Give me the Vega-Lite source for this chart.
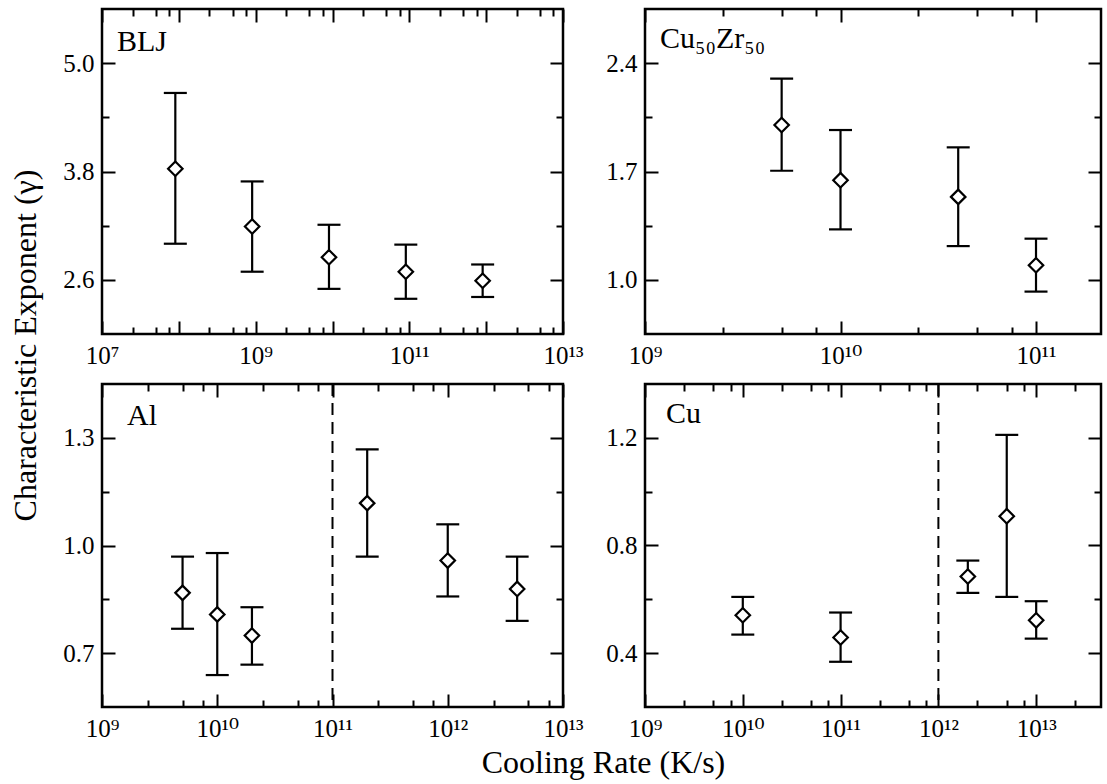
{
  "$schema": "https://vega.github.io/schema/vega-lite/v6.json",
  "padding": {"left": 7, "top": 6, "right": 0, "bottom": 0},
  "datasets": {
    "blj": [
      {"rate": 9e7, "g": 3.83, "lo": 3.00, "hi": 4.67},
      {"rate": 9e8, "g": 3.19, "lo": 2.69, "hi": 3.69},
      {"rate": 9e9, "g": 2.85, "lo": 2.50, "hi": 3.21},
      {"rate": 9e10, "g": 2.69, "lo": 2.39, "hi": 2.99},
      {"rate": 9e11, "g": 2.59, "lo": 2.41, "hi": 2.77}
    ],
    "cuzr": [
      {"rate": 5e9, "g": 2.00, "lo": 1.705, "hi": 2.30},
      {"rate": 1e10, "g": 1.644, "lo": 1.326, "hi": 1.968},
      {"rate": 4e10, "g": 1.536, "lo": 1.218, "hi": 1.856},
      {"rate": 1e11, "g": 1.094, "lo": 0.924, "hi": 1.266}
    ],
    "al": [
      {"rate": 5e9, "g": 0.868, "lo": 0.768, "hi": 0.969},
      {"rate": 1e10, "g": 0.808, "lo": 0.639, "hi": 0.979},
      {"rate": 2e10, "g": 0.749, "lo": 0.668, "hi": 0.828},
      {"rate": 2e11, "g": 1.118, "lo": 0.969, "hi": 1.268},
      {"rate": 1e12, "g": 0.958, "lo": 0.858, "hi": 1.059},
      {"rate": 4e12, "g": 0.879, "lo": 0.790, "hi": 0.969}
    ],
    "cu": [
      {"rate": 1e10, "g": 0.541, "lo": 0.469, "hi": 0.609},
      {"rate": 1e11, "g": 0.458, "lo": 0.368, "hi": 0.551},
      {"rate": 2e12, "g": 0.685, "lo": 0.624, "hi": 0.744},
      {"rate": 5e12, "g": 0.909, "lo": 0.609, "hi": 1.211},
      {"rate": 1e13, "g": 0.522, "lo": 0.454, "hi": 0.593}
    ]
  },
  "columns": 2,
  "spacing": {"row": 50, "column": 82},
  "bounds": "flush",
  "concat": [
    {
      "width": 461, "height": 325,
      "data": {"name": "blj"},
      "resolve": {"axis": {"x": "independent", "y": "independent"}},
      "layer": [
        {"mark": {"type": "rule", "strokeWidth": 2.2, "color": "black"},
         "encoding": {
           "x": {"field": "rate", "type": "quantitative", "scale": {"type": "log", "domain": [1e7, 1e13], "nice": false},
                 "axis": {"orient": "bottom", "title": null, "values": [1e7, 1e8, 1e9, 1e10, 1e11, 1e12, 1e13], "tickSize": -13, "labelPadding": 22,
                          "labelExpr": "datum.value == 1e7 ? '10⁷' : datum.value == 1e9 ? '10⁹' : datum.value == 1e11 ? '10¹¹' : datum.value == 1e13 ? '10¹³' : ''"}},
           "y": {"field": "lo", "type": "quantitative", "scale": {"domain": [2.0, 5.6], "nice": false, "zero": false},
                 "axis": {"orient": "left", "title": "Characteristic Exponent (γ)", "values": [2.6, 3.8, 5.0], "format": ".1f", "tickSize": -13, "labelPadding": 21,
                          "titleX": -67, "titleY": 336, "titleAngle": 270, "titleAlign": "center", "titleBaseline": "alphabetic"}},
           "y2": {"field": "hi"}
         }},
        {"mark": {"type": "tick", "orient": "horizontal", "size": 23, "thickness": 2.2, "color": "black", "opacity": 1},
         "encoding": {
           "x": {"field": "rate", "type": "quantitative", "scale": {"type": "log", "domain": [1e7, 1e13], "nice": false},
                 "axis": {"orient": "bottom", "title": null, "labels": false, "tickSize": -7,
                          "values": [2.5e7, 5e7, 7.5e7, 2.5e8, 5e8, 7.5e8, 2.5e9, 5e9, 7.5e9, 2.5e10, 5e10, 7.5e10, 2.5e11, 5e11, 7.5e11, 2.5e12, 5e12, 7.5e12]}},
           "y": {"field": "lo", "type": "quantitative", "scale": {"domain": [2.0, 5.6], "nice": false, "zero": false},
                 "axis": {"orient": "left", "title": null, "labels": false, "tickSize": -7, "values": [3.2, 4.4]}}
         }},
        {"mark": {"type": "tick", "orient": "horizontal", "size": 23, "thickness": 2.2, "color": "black", "opacity": 1},
         "encoding": {
           "x": {"field": "rate", "type": "quantitative", "scale": {"type": "log", "domain": [1e7, 1e13], "nice": false},
                 "axis": {"orient": "top", "title": null, "labels": false, "tickSize": -13, "values": [1e7, 1e8, 1e9, 1e10, 1e11, 1e12, 1e13]}},
           "y": {"field": "hi", "type": "quantitative", "scale": {"domain": [2.0, 5.6], "nice": false, "zero": false},
                 "axis": {"orient": "right", "title": null, "labels": false, "tickSize": -13, "values": [2.6, 3.8, 5.0]}}
         }},
        {"data": {"values": [{"label": "BLJ"}]},
         "mark": {"type": "text", "align": "left", "baseline": "alphabetic", "dx": 15, "dy": 42, "fontSize": 30, "font": "Liberation Serif", "color": "black"},
         "encoding": {
           "x": {"datum": 1e7, "type": "quantitative", "scale": {"type": "log", "domain": [1e7, 1e13], "nice": false}, "axis": null},
           "y": {"datum": 5.6, "type": "quantitative", "scale": {"domain": [2.0, 5.6], "nice": false, "zero": false}, "axis": null},
           "text": {"field": "label"}
         }},
        {"mark": {"type": "point", "shape": "diamond", "filled": true, "fill": "white", "stroke": "black", "strokeWidth": 2.2, "size": 210, "opacity": 1},
         "encoding": {
           "x": {"field": "rate", "type": "quantitative", "scale": {"type": "log", "domain": [1e7, 1e13], "nice": false},
                 "axis": {"orient": "top", "title": null, "labels": false, "tickSize": -7,
                          "values": [2.5e7, 5e7, 7.5e7, 2.5e8, 5e8, 7.5e8, 2.5e9, 5e9, 7.5e9, 2.5e10, 5e10, 7.5e10, 2.5e11, 5e11, 7.5e11, 2.5e12, 5e12, 7.5e12]}},
           "y": {"field": "g", "type": "quantitative", "scale": {"domain": [2.0, 5.6], "nice": false, "zero": false},
                 "axis": {"orient": "right", "title": null, "labels": false, "tickSize": -7, "values": [3.2, 4.4]}}
         }}
      ]
    },
    {
      "width": 456, "height": 325,
      "data": {"name": "cuzr"},
      "resolve": {"axis": {"x": "independent", "y": "independent"}},
      "layer": [
        {"mark": {"type": "rule", "strokeWidth": 2.2, "color": "black"},
         "encoding": {
           "x": {"field": "rate", "type": "quantitative", "scale": {"type": "log", "domain": [1e9, 2.15e11], "nice": false},
                 "axis": {"orient": "bottom", "title": null, "values": [1e9, 1e10, 1e11], "tickSize": -13, "labelPadding": 22,
                          "labelExpr": "datum.value == 1e9 ? '10⁹' : datum.value == 1e10 ? '10¹⁰' : '10¹¹'"}},
           "y": {"field": "lo", "type": "quantitative", "scale": {"domain": [0.65, 2.75], "nice": false, "zero": false},
                 "axis": {"orient": "left", "title": null, "values": [1.0, 1.7, 2.4], "format": ".1f", "tickSize": -13, "labelPadding": 21}},
           "y2": {"field": "hi"}
         }},
        {"mark": {"type": "tick", "orient": "horizontal", "size": 23, "thickness": 2.2, "color": "black", "opacity": 1},
         "encoding": {
           "x": {"field": "rate", "type": "quantitative", "scale": {"type": "log", "domain": [1e9, 2.15e11], "nice": false},
                 "axis": {"orient": "bottom", "title": null, "labels": false, "tickSize": -7, "values": [2.5e9, 5e9, 7.5e9, 2.5e10, 5e10, 7.5e10]}},
           "y": {"field": "lo", "type": "quantitative", "scale": {"domain": [0.65, 2.75], "nice": false, "zero": false},
                 "axis": {"orient": "left", "title": null, "labels": false, "tickSize": -7, "values": [1.35, 2.05]}}
         }},
        {"mark": {"type": "tick", "orient": "horizontal", "size": 23, "thickness": 2.2, "color": "black", "opacity": 1},
         "encoding": {
           "x": {"field": "rate", "type": "quantitative", "scale": {"type": "log", "domain": [1e9, 2.15e11], "nice": false},
                 "axis": {"orient": "top", "title": null, "labels": false, "tickSize": -13, "values": [1e9, 1e10, 1e11]}},
           "y": {"field": "hi", "type": "quantitative", "scale": {"domain": [0.65, 2.75], "nice": false, "zero": false},
                 "axis": {"orient": "right", "title": null, "labels": false, "tickSize": -13, "values": [1.0, 1.7, 2.4]}}
         }},
        {"data": {"values": [{"label": "Cu₅₀Zr₅₀"}]},
         "mark": {"type": "text", "align": "left", "baseline": "alphabetic", "dx": 15, "dy": 39, "fontSize": 30, "font": "Liberation Serif, DejaVu Serif", "color": "black"},
         "encoding": {
           "x": {"datum": 1e9, "type": "quantitative", "scale": {"type": "log", "domain": [1e9, 2.15e11], "nice": false}, "axis": null},
           "y": {"datum": 2.75, "type": "quantitative", "scale": {"domain": [0.65, 2.75], "nice": false, "zero": false}, "axis": null},
           "text": {"field": "label"}
         }},
        {"mark": {"type": "point", "shape": "diamond", "filled": true, "fill": "white", "stroke": "black", "strokeWidth": 2.2, "size": 210, "opacity": 1},
         "encoding": {
           "x": {"field": "rate", "type": "quantitative", "scale": {"type": "log", "domain": [1e9, 2.15e11], "nice": false},
                 "axis": {"orient": "top", "title": null, "labels": false, "tickSize": -7, "values": [2.5e9, 5e9, 7.5e9, 2.5e10, 5e10, 7.5e10]}},
           "y": {"field": "g", "type": "quantitative", "scale": {"domain": [0.65, 2.75], "nice": false, "zero": false},
                 "axis": {"orient": "right", "title": null, "labels": false, "tickSize": -7, "values": [1.35, 2.05]}}
         }}
      ]
    },
    {
      "width": 461, "height": 323,
      "data": {"name": "al"},
      "resolve": {"axis": {"x": "independent", "y": "independent"}},
      "layer": [
        {"mark": {"type": "rule", "strokeWidth": 2.2, "color": "black"},
         "encoding": {
           "x": {"field": "rate", "type": "quantitative", "scale": {"type": "log", "domain": [1e9, 1e13], "nice": false},
                 "axis": {"orient": "bottom", "title": "Cooling Rate (K/s)", "values": [1e9, 1e10, 1e11, 1e12, 1e13], "tickSize": -13, "labelPadding": 22,
                          "labelExpr": "datum.value == 1e9 ? '10⁹' : datum.value == 1e10 ? '10¹⁰' : datum.value == 1e11 ? '10¹¹' : datum.value == 1e12 ? '10¹²' : '10¹³'",
                          "titleX": 501, "titleY": 65, "titleAlign": "center", "titleBaseline": "alphabetic", "titleAngle": 0}},
           "y": {"field": "lo", "type": "quantitative", "scale": {"domain": [0.55, 1.45], "nice": false, "zero": false},
                 "axis": {"orient": "left", "title": null, "values": [0.7, 1.0, 1.3], "format": ".1f", "tickSize": -13, "labelPadding": 21}},
           "y2": {"field": "hi"}
         }},
        {"mark": {"type": "tick", "orient": "horizontal", "size": 23, "thickness": 2.2, "color": "black", "opacity": 1},
         "encoding": {
           "x": {"field": "rate", "type": "quantitative", "scale": {"type": "log", "domain": [1e9, 1e13], "nice": false},
                 "axis": {"orient": "bottom", "title": null, "labels": false, "tickSize": -7,
                          "values": [2.5e9, 5e9, 7.5e9, 2.5e10, 5e10, 7.5e10, 2.5e11, 5e11, 7.5e11, 2.5e12, 5e12, 7.5e12]}},
           "y": {"field": "lo", "type": "quantitative", "scale": {"domain": [0.55, 1.45], "nice": false, "zero": false},
                 "axis": {"orient": "left", "title": null, "labels": false, "tickSize": -7, "values": [0.85, 1.15]}}
         }},
        {"mark": {"type": "tick", "orient": "horizontal", "size": 23, "thickness": 2.2, "color": "black", "opacity": 1},
         "encoding": {
           "x": {"field": "rate", "type": "quantitative", "scale": {"type": "log", "domain": [1e9, 1e13], "nice": false},
                 "axis": {"orient": "top", "title": null, "labels": false, "tickSize": -13, "values": [1e9, 1e10, 1e11, 1e12, 1e13]}},
           "y": {"field": "hi", "type": "quantitative", "scale": {"domain": [0.55, 1.45], "nice": false, "zero": false},
                 "axis": {"orient": "right", "title": null, "labels": false, "tickSize": -13, "values": [0.7, 1.0, 1.3]}}
         }},
        {"data": {"values": [{"rate": 1e11}]},
         "mark": {"type": "rule", "strokeWidth": 2, "color": "black", "strokeDash": [12, 7]},
         "encoding": {
           "x": {"field": "rate", "type": "quantitative", "scale": {"type": "log", "domain": [1e9, 1e13], "nice": false}, "axis": null}
         }},
        {"data": {"values": [{"label": "Al"}]},
         "mark": {"type": "text", "align": "left", "baseline": "alphabetic", "dx": 25, "dy": 41, "fontSize": 30, "font": "Liberation Serif", "color": "black"},
         "encoding": {
           "x": {"datum": 1e9, "type": "quantitative", "scale": {"type": "log", "domain": [1e9, 1e13], "nice": false}, "axis": null},
           "y": {"datum": 1.45, "type": "quantitative", "scale": {"domain": [0.55, 1.45], "nice": false, "zero": false}, "axis": null},
           "text": {"field": "label"}
         }},
        {"mark": {"type": "point", "shape": "diamond", "filled": true, "fill": "white", "stroke": "black", "strokeWidth": 2.2, "size": 210, "opacity": 1},
         "encoding": {
           "x": {"field": "rate", "type": "quantitative", "scale": {"type": "log", "domain": [1e9, 1e13], "nice": false},
                 "axis": {"orient": "top", "title": null, "labels": false, "tickSize": -7,
                          "values": [2.5e9, 5e9, 7.5e9, 2.5e10, 5e10, 7.5e10, 2.5e11, 5e11, 7.5e11, 2.5e12, 5e12, 7.5e12]}},
           "y": {"field": "g", "type": "quantitative", "scale": {"domain": [0.55, 1.45], "nice": false, "zero": false},
                 "axis": {"orient": "right", "title": null, "labels": false, "tickSize": -7, "values": [0.85, 1.15]}}
         }}
      ]
    },
    {
      "width": 456, "height": 323,
      "data": {"name": "cu"},
      "resolve": {"axis": {"x": "independent", "y": "independent"}},
      "layer": [
        {"mark": {"type": "rule", "strokeWidth": 2.2, "color": "black"},
         "encoding": {
           "x": {"field": "rate", "type": "quantitative", "scale": {"type": "log", "domain": [1e9, 4.6e13], "nice": false},
                 "axis": {"orient": "bottom", "title": null, "values": [1e9, 1e10, 1e11, 1e12, 1e13], "tickSize": -13, "labelPadding": 22,
                          "labelExpr": "datum.value == 1e9 ? '10⁹' : datum.value == 1e10 ? '10¹⁰' : datum.value == 1e11 ? '10¹¹' : datum.value == 1e12 ? '10¹²' : '10¹³'"}},
           "y": {"field": "lo", "type": "quantitative", "scale": {"domain": [0.2, 1.4], "nice": false, "zero": false},
                 "axis": {"orient": "left", "title": null, "values": [0.4, 0.8, 1.2], "format": ".1f", "tickSize": -13, "labelPadding": 21}},
           "y2": {"field": "hi"}
         }},
        {"mark": {"type": "tick", "orient": "horizontal", "size": 23, "thickness": 2.2, "color": "black", "opacity": 1},
         "encoding": {
           "x": {"field": "rate", "type": "quantitative", "scale": {"type": "log", "domain": [1e9, 4.6e13], "nice": false},
                 "axis": {"orient": "bottom", "title": null, "labels": false, "tickSize": -7,
                          "values": [2.5e9, 5e9, 7.5e9, 2.5e10, 5e10, 7.5e10, 2.5e11, 5e11, 7.5e11, 2.5e12, 5e12, 7.5e12, 2.5e13]}},
           "y": {"field": "lo", "type": "quantitative", "scale": {"domain": [0.2, 1.4], "nice": false, "zero": false},
                 "axis": {"orient": "left", "title": null, "labels": false, "tickSize": -7, "values": [0.6, 1.0]}}
         }},
        {"mark": {"type": "tick", "orient": "horizontal", "size": 23, "thickness": 2.2, "color": "black", "opacity": 1},
         "encoding": {
           "x": {"field": "rate", "type": "quantitative", "scale": {"type": "log", "domain": [1e9, 4.6e13], "nice": false},
                 "axis": {"orient": "top", "title": null, "labels": false, "tickSize": -13, "values": [1e9, 1e10, 1e11, 1e12, 1e13]}},
           "y": {"field": "hi", "type": "quantitative", "scale": {"domain": [0.2, 1.4], "nice": false, "zero": false},
                 "axis": {"orient": "right", "title": null, "labels": false, "tickSize": -13, "values": [0.4, 0.8, 1.2]}}
         }},
        {"data": {"values": [{"rate": 1e12}]},
         "mark": {"type": "rule", "strokeWidth": 2, "color": "black", "strokeDash": [12, 7]},
         "encoding": {
           "x": {"field": "rate", "type": "quantitative", "scale": {"type": "log", "domain": [1e9, 4.6e13], "nice": false}, "axis": null}
         }},
        {"data": {"values": [{"label": "Cu"}]},
         "mark": {"type": "text", "align": "left", "baseline": "alphabetic", "dx": 21, "dy": 39, "fontSize": 30, "font": "Liberation Serif", "color": "black"},
         "encoding": {
           "x": {"datum": 1e9, "type": "quantitative", "scale": {"type": "log", "domain": [1e9, 4.6e13], "nice": false}, "axis": null},
           "y": {"datum": 1.4, "type": "quantitative", "scale": {"domain": [0.2, 1.4], "nice": false, "zero": false}, "axis": null},
           "text": {"field": "label"}
         }},
        {"mark": {"type": "point", "shape": "diamond", "filled": true, "fill": "white", "stroke": "black", "strokeWidth": 2.2, "size": 210, "opacity": 1},
         "encoding": {
           "x": {"field": "rate", "type": "quantitative", "scale": {"type": "log", "domain": [1e9, 4.6e13], "nice": false},
                 "axis": {"orient": "top", "title": null, "labels": false, "tickSize": -7,
                          "values": [2.5e9, 5e9, 7.5e9, 2.5e10, 5e10, 7.5e10, 2.5e11, 5e11, 7.5e11, 2.5e12, 5e12, 7.5e12, 2.5e13]}},
           "y": {"field": "g", "type": "quantitative", "scale": {"domain": [0.2, 1.4], "nice": false, "zero": false},
                 "axis": {"orient": "right", "title": null, "labels": false, "tickSize": -7, "values": [0.6, 1.0]}}
         }}
      ]
    }
  ],
  "config": {
    "font": "Liberation Serif",
    "background": "white",
    "view": {"stroke": "black", "strokeWidth": 2.5},
    "axis": {
      "domain": false, "grid": false,
      "labelFont": "Liberation Serif, DejaVu Serif", "labelFontSize": 25, "labelColor": "black",
      "tickColor": "black", "tickWidth": 2,
      "labelFlush": false, "labelOverlap": false, "labelBound": false,
      "titleFont": "Liberation Serif", "titleFontSize": 32, "titleFontWeight": "normal", "titleColor": "black"
    }
  }
}
